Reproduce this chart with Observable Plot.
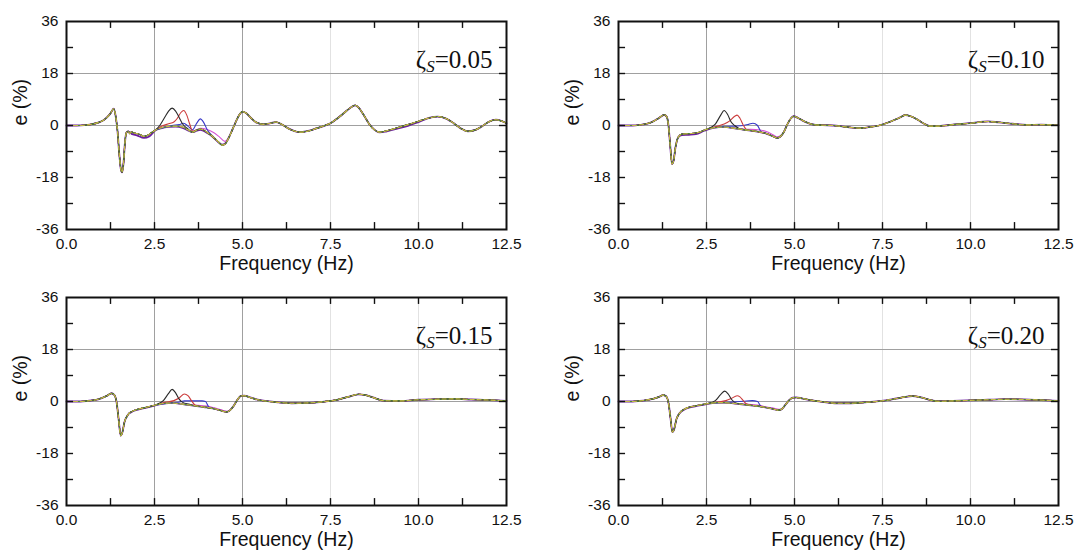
<!DOCTYPE html>
<html><head><meta charset="utf-8">
<script src="https://cdn.jsdelivr.net/npm/d3@7"></script>
<script src="https://cdn.jsdelivr.net/npm/@observablehq/plot@0.6"></script>
<style>
html,body{margin:0;padding:0;background:#fff;}
#wrap{position:relative;width:1080px;height:559px;overflow:hidden;background:#fff;}
.panel{position:absolute;}
</style></head><body><div id="wrap"></div>
<script>
// ---------- ticks & labels ----------
const xTickLabels = [0, 2.5, 5, 7.5, 10, 12.5];
const xMinorTicks = [1.25, 2.5, 3.75, 5, 6.25, 7.5, 8.75, 10, 11.25];
const yTickLabels = [-36, -18, 0, 18, 36];
const yMinorTicks = [-27, -18, -9, 0, 9, 18, 27];
const zetaValues = ["0.05", "0.10", "0.15", "0.20"];
const xTitle = "Frequency (Hz)";
const yTitle = "e (%)";

// ---------- series ----------
const seriesNames  = ["purple", "magenta", "blue", "red", "black", "green", "yellow"];
const seriesColors = ["#6a1f9e", "#d455d4", "#3838c8", "#cc3b3b", "#2a2a2a", "#4f8a3a", "#c9bb45"];

// ---------- zeta = 0.05 ----------
const freq05 = [0,0.3,0.5,0.7,0.9,1.05,1.15,1.25,1.34,1.4,1.45,1.5,1.55,1.58,1.62,1.66,1.7,1.75,1.8,1.85,1.9,2.0,2.1,2.2,2.3,2.4,2.5,2.7,2.9,3.1,3.3,3.45,3.58,3.7,3.8,3.9,4.0,4.15,4.3,4.42,4.5,4.6,4.7,4.8,4.9,5.0,5.1,5.25,5.4,5.6,5.8,5.95,6.1,6.3,6.5,6.65,6.9,7.1,7.3,7.5,7.7,7.9,8.05,8.2,8.3,8.45,8.6,8.75,8.9,9.1,9.4,9.7,10.0,10.3,10.55,10.8,11.0,11.2,11.4,11.6,11.8,12.0,12.2,12.35,12.5];
const base05 = [0,0,0.1,0.4,1.0,1.8,2.8,4.2,5.8,3.0,-2.0,-10.0,-15.5,-16.2,-13.0,-6.0,-2.5,-2.0,-2.8,-2.2,-2.5,-2.8,-3.2,-3.8,-3.4,-2.6,-1.8,-0.8,-0.3,-0.2,-0.5,-1.5,-2.3,-1.6,-1.2,-1.6,-2.4,-3.8,-5.5,-6.8,-6.5,-4.5,-1.8,1.0,3.5,4.8,4.3,2.5,1.0,0.4,0.8,1.2,0.5,-1.0,-2.0,-2.3,-1.8,-1.0,-0.2,0.8,2.5,4.5,6.0,7.0,6.2,3.5,0.5,-1.5,-2.3,-1.8,-0.8,0.3,1.5,2.6,3.1,2.3,0.8,-1.0,-2.0,-1.6,-0.3,1.3,2.0,1.6,0.8];
const black05   = [[2.5,-1.8],[2.65,0.0],[2.8,3.0],[2.9,5.0],[3.0,6.0],[3.1,5.0],[3.2,2.8],[3.3,0.5],[3.45,-1.2],[3.58,-2.3]];
const red05     = [[2.5,-1.8],[2.7,-0.3],[2.9,0.6],[3.05,1.2],[3.15,2.5],[3.25,4.5],[3.33,5.2],[3.42,3.5],[3.5,0.5],[3.58,-2.0]];
const blue05    = [[2.5,-1.8],[2.8,-0.6],[3.0,0.0],[3.2,0.3],[3.33,0.8],[3.45,-0.2],[3.58,-1.5],[3.7,0.8],[3.8,2.3],[3.9,1.0],[4.0,-1.5],[4.15,-3.6]];
const magenta05 = [[3.58,-2.0],[3.8,-1.0],[4.0,-1.4],[4.2,-2.6],[4.35,-4.0],[4.5,-5.5],[4.6,-4.4]];
const purple05  = [[1.75,-2.0],[1.85,-2.9],[2.0,-3.4],[2.2,-4.3],[2.35,-3.8],[2.5,-1.9],[2.7,-0.9],[2.9,-0.5],[3.1,-0.4],[3.3,-0.8],[3.45,-1.7],[3.58,-2.3],[3.7,-1.8],[3.8,-1.5],[3.9,-1.9],[4.0,-2.6],[4.15,-3.9],[4.3,-5.6],[4.42,-6.6],[4.5,-6.3],[4.6,-4.4],[4.7,-1.8],[4.8,1.0],[4.9,3.5],[5.0,4.8],[5.1,4.3],[5.25,2.5],[5.4,1.0],[5.6,0.4],[5.8,0.8],[5.95,1.2],[6.1,0.5],[6.3,-1.0],[6.5,-2.0],[6.65,-2.3],[6.9,-1.8],[7.1,-1.0],[7.3,-0.2],[7.5,0.8],[7.7,2.5],[7.9,4.5],[8.05,6.0],[8.2,7.0],[8.3,6.2],[8.45,3.5],[8.6,0.5],[8.75,-1.5],[8.9,-2.4],[9.1,-2.0],[9.4,-1.1],[9.7,-0.1],[10.0,1.2]];

// ---------- zeta = 0.10 ----------
const freq10 = [0,0.4,0.6,0.8,1.0,1.15,1.3,1.37,1.42,1.47,1.52,1.56,1.62,1.7,1.8,2.0,2.2,2.4,2.5,2.7,3.0,3.3,3.6,3.9,4.2,4.4,4.5,4.6,4.7,4.8,4.9,4.98,5.1,5.3,5.5,5.8,6.1,6.4,6.7,6.9,7.1,7.4,7.7,8.0,8.15,8.3,8.5,8.7,8.85,9.1,9.5,10.0,10.5,10.8,11.2,11.6,12.0,12.5];
const base10 = [0,0,0.2,0.6,1.5,2.6,3.7,3.0,0,-7.0,-13.3,-12.5,-7.5,-4.0,-3.0,-2.8,-2.6,-1.8,-1.3,-0.8,-0.5,-1.0,-1.5,-2.0,-2.8,-3.8,-4.3,-3.8,-2.2,0.5,2.5,3.2,2.6,1.3,0.4,0.1,0,-0.4,-0.8,-0.9,-0.6,0,1.2,2.8,3.6,3.2,2.0,0.5,-0.2,-0.2,0.3,0.8,1.4,1.1,0.6,0.2,0.3,0.1];
const black10   = [[2.5,-1.3],[2.75,0.5],[2.9,3.5],[3.0,5.2],[3.1,3.8],[3.2,1.2],[3.3,0.0],[3.45,-1.2],[3.6,-1.5]];
const red10     = [[2.5,-1.3],[2.8,-0.3],[3.0,0.5],[3.15,1.5],[3.3,3.2],[3.37,3.6],[3.45,2.5],[3.55,0.0],[3.65,-1.5]];
const blue10    = [[2.5,-1.3],[3.0,-0.3],[3.3,-0.2],[3.55,0.0],[3.7,0.4],[3.82,0.8],[3.95,0.0],[4.05,-2.2]];
const magenta10 = [[3.6,-1.3],[3.9,-1.4],[4.2,-2.1],[4.4,-3.3],[4.5,-3.9],[4.6,-3.5]];
const purple10  = [[1.8,-3.3],[2.0,-3.2],[2.2,-3.0],[2.4,-2.0],[2.5,-1.5]];

// ---------- zeta = 0.15 ----------
const freq15 = [0,0.4,0.6,0.8,1.0,1.15,1.28,1.35,1.42,1.48,1.54,1.58,1.65,1.75,1.85,2.0,2.2,2.5,2.8,3.0,3.3,3.6,3.9,4.2,4.4,4.55,4.65,4.75,4.85,4.95,5.05,5.2,5.4,5.7,6.0,6.4,6.8,7.2,7.6,8.0,8.3,8.5,8.8,9.0,9.5,10.0,10.5,11.0,11.5,12.0,12.5];
const base15 = [0,0,0.2,0.5,1.2,2.0,2.8,2.4,0,-6.0,-11.8,-11.0,-7.0,-4.5,-3.5,-2.8,-2.2,-1.3,-0.6,-0.5,-0.9,-1.4,-1.9,-2.5,-3.2,-3.6,-3.0,-1.5,0.5,1.9,2.0,1.5,0.7,0.1,-0.3,-0.6,-0.5,-0.2,0.4,1.6,2.5,2.2,1.0,0.3,0.2,0.6,0.8,0.9,0.7,0.5,0.2];
const black15   = [[2.5,-1.3],[2.75,0.3],[2.9,2.8],[3.0,4.2],[3.1,3.0],[3.2,0.8],[3.3,-0.3],[3.5,-1.0]];
const red15     = [[2.5,-1.3],[2.8,-0.3],[3.05,0.3],[3.2,1.2],[3.35,2.6],[3.45,2.0],[3.55,0.3],[3.65,-1.2]];
const blue15    = [[2.5,-1.3],[3.0,-0.4],[3.2,-0.2],[3.35,0.2],[3.6,0.2],[3.85,0.2],[3.95,0.0],[4.05,-2.0]];
const magenta15 = [[3.6,-1.2],[4.0,-1.6],[4.2,-2.2],[4.4,-2.9],[4.55,-3.4]];
const purple15  = [[1.85,-3.6],[2.0,-2.9],[2.2,-2.3],[2.5,-1.4]];

// ---------- zeta = 0.20 ----------
const freq20 = [0,0.4,0.6,0.8,1.0,1.15,1.27,1.35,1.42,1.48,1.53,1.57,1.65,1.75,1.85,2.0,2.2,2.5,2.8,3.0,3.3,3.6,3.9,4.2,4.4,4.55,4.65,4.75,4.85,4.95,5.05,5.2,5.5,5.8,6.2,6.6,7.0,7.4,7.8,8.1,8.35,8.6,8.9,9.1,9.5,10.0,10.5,11.0,11.5,12.0,12.5];
const base20 = [0,0,0.2,0.5,1.0,1.6,2.2,1.8,-0.5,-6.0,-10.6,-10.0,-6.0,-3.8,-2.8,-2.0,-1.5,-0.8,-0.4,-0.4,-0.7,-1.1,-1.5,-2.1,-2.6,-3.0,-2.5,-1.0,0.5,1.3,1.4,1.1,0.4,-0.1,-0.6,-0.6,-0.3,0.1,0.8,1.5,1.9,1.4,0.4,0.1,0.2,0.4,0.6,0.8,0.7,0.5,0.2];
const black20   = [[2.5,-0.8],[2.75,0.3],[2.9,2.4],[3.02,3.6],[3.12,2.5],[3.22,0.6],[3.35,-0.6],[3.5,-0.9]];
const red20     = [[2.5,-0.8],[2.8,-0.2],[3.05,0.3],[3.2,1.0],[3.37,2.0],[3.45,1.6],[3.55,0.2],[3.65,-0.9]];
const blue20    = [[2.5,-0.8],[3.0,-0.3],[3.3,-0.1],[3.55,0.1],[3.8,0.3],[3.95,0.0],[4.05,-1.7]];
const magenta20 = [[3.6,-0.9],[4.0,-1.3],[4.2,-1.9],[4.4,-2.3],[4.55,-2.7]];
const purple20  = [[1.85,-2.9],[2.0,-2.1],[2.2,-1.6],[2.5,-0.9]];

// ---------- assembly ----------
const panels = [
  {zeta: zetaValues[0], freq: freq05, base: base05, over: {purple: purple05, magenta: magenta05, blue: blue05, red: red05, black: black05}},
  {zeta: zetaValues[1], freq: freq10, base: base10, over: {purple: purple10, magenta: magenta10, blue: blue10, red: red10, black: black10}},
  {zeta: zetaValues[2], freq: freq15, base: base15, over: {purple: purple15, magenta: magenta15, blue: blue15, red: red15, black: black15}},
  {zeta: zetaValues[3], freq: freq20, base: base20, over: {purple: purple20, magenta: magenta20, blue: blue20, red: red20, black: black20}}
];
const layout = [
  {left: 0,   top: 0,   ml: 66, mr: 34},
  {left: 540, top: 0,   ml: 78, mr: 22},
  {left: 0,   top: 276, ml: 66, mr: 34},
  {left: 540, top: 276, ml: 78, mr: 22}
];

function compose(freq, base, over, name) {
  const pts = freq.map((f, i) => ({f, e: base[i], s: name}));
  if (!over) return pts;
  const lo = over[0][0], hi = over[over.length - 1][0];
  const out = pts.filter(p => p.f < lo || p.f > hi);
  over.forEach(([f, e]) => out.push({f, e, s: name}));
  out.sort((a, b) => a.f - b.f);
  return out;
}

const wrap = document.getElementById("wrap");
panels.forEach((p, k) => {
  const L = layout[k];
  const lineMarks = seriesNames.map((name, i) => Plot.line(compose(p.freq, p.base, p.over[name], name), {
    x: "f", y: "e", stroke: seriesColors[i], strokeWidth: name === "purple" ? 1.8 : 1.1,
    curve: "monotone-x",
    strokeDasharray: name === "yellow" ? "4,3" : null
  }));
  const svg = Plot.plot({
    width: 540, height: 280,
    marginLeft: L.ml, marginRight: L.mr, marginTop: 21, marginBottom: 51,
    style: {fontFamily: "'Liberation Sans', Arial, sans-serif", background: "transparent", color: "#111", overflow: "visible"},
    x: {domain: [0, 12.5], axis: null},
    y: {domain: [-36, 36], axis: null},
    marks: [
      Plot.ruleX([2.5, 5], {stroke: "#a0a0a0", strokeWidth: 1}),
      Plot.ruleX([7.5, 10], {stroke: "#e2e2e2", strokeWidth: 1}),
      Plot.ruleY([18, 0], {stroke: "#a0a0a0", strokeWidth: 1}),
      ...lineMarks,
      // inward minor/major ticks on all four sides
      Plot.ruleX(xMinorTicks, {y1: -36, y2: -33.6, stroke: "#111", strokeWidth: 1.4}),
      Plot.ruleX(xMinorTicks, {y1: 36, y2: 33.6, stroke: "#111", strokeWidth: 1.4}),
      Plot.ruleY(yMinorTicks, {x1: 0, x2: 0.2, stroke: "#111", strokeWidth: 1.4}),
      Plot.ruleY(yMinorTicks, {x1: 12.5, x2: 12.3, stroke: "#111", strokeWidth: 1.4}),
      Plot.frame({stroke: "#111", strokeWidth: 2}),
      Plot.axisX({ticks: xTickLabels, tickSize: 0, tickPadding: 8, tickFormat: d => d.toFixed(1), label: null, fontSize: 15.5}),
      Plot.axisY({ticks: yTickLabels, tickSize: 0, tickPadding: 8, tickFormat: d => String(d), label: null, fontSize: 15.5}),
      Plot.text([xTitle], {frameAnchor: "bottom", dy: 40, fontSize: 19.5, fill: "#111"}),
      Plot.text([yTitle], {frameAnchor: "left", dx: -46, rotate: -90, fontSize: 19.5, fill: "#111"}),
      Plot.text(["ζS=" + p.zeta], {frameAnchor: "top-right", dx: -14, dy: 46, lineAnchor: "bottom", textAnchor: "end",
        fontFamily: "'Liberation Serif', 'Times New Roman', serif", fontSize: 25, fill: "#111"})
    ]
  });
  svg.classList.add("panel");
  svg.style.left = L.left + "px";
  svg.style.top = L.top + "px";
  wrap.appendChild(svg);
  // render the S of ζS as an italic subscript
  d3.select(svg).selectAll("text").filter(function () { return this.textContent === "ζS=" + p.zeta; })
    .each(function () {
      const t = d3.select(this);
      t.text(null);
      t.append("tspan").text("ζ");
      t.append("tspan").attr("font-size", 17).attr("font-style", "italic").attr("dy", 4).text("S");
      t.append("tspan").attr("dy", -4).text("=" + p.zeta);
    });
});
</script>
</body></html>
